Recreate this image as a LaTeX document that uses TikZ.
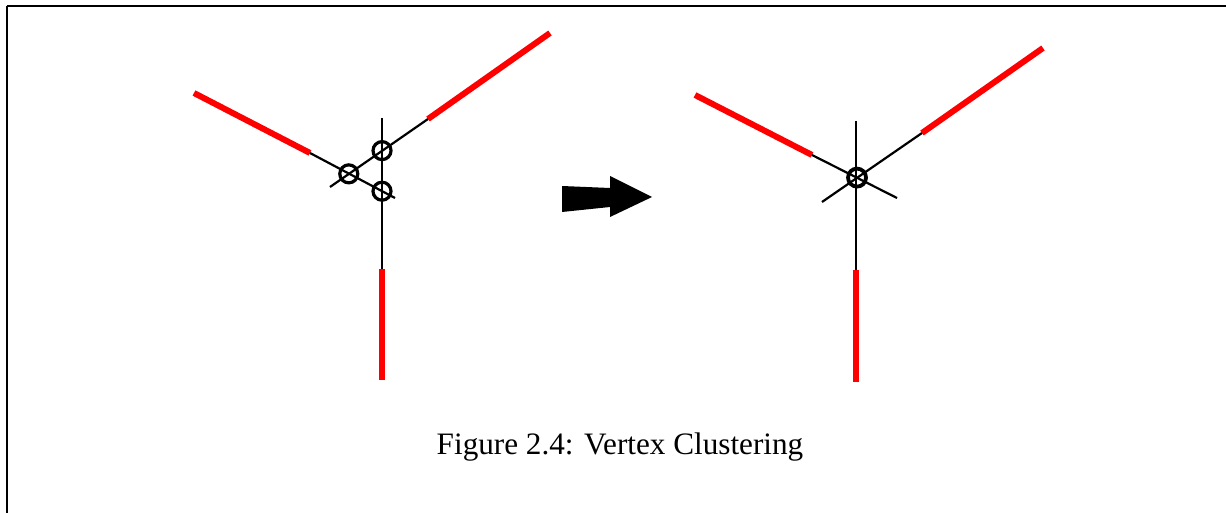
\documentclass[tikz,border=0pt]{standalone}
\usepackage{fontspec}
\setmainfont{Liberation Serif}
\usetikzlibrary{calc}

\begin{document}
\begin{tikzpicture}[x=0.5pt,y=-0.5pt,
    thin edge/.style={line width=1.1pt,black},
    red edge/.style={line width=3pt,red},
    vtx/.style={circle,draw,line width=1.6pt,minimum size=9pt,inner sep=0pt},
    frame/.style={line width=1pt,black}
  ]
  \useasboundingbox (0,0) rectangle (1226,513);
  \draw[frame] (7,6) -- (1226,6);
  \draw[frame] (7,6) -- (7,513);

  % before clustering
  \coordinate (la1) at (194,93);
  \coordinate (la2) at (310,153);
  \coordinate (la3) at (395,198);
  \coordinate (lb1) at (550,33);
  \coordinate (lb2) at (428,119);
  \coordinate (lb3) at (330,187);
  \coordinate (lc1) at (382,118);
  \coordinate (lc2) at (382,269);
  \coordinate (lc3) at (382,380);
  \draw[red edge] (la1) -- (la2);
  \draw[thin edge] (la2) -- (la3);
  \draw[red edge] (lb1) -- (lb2);
  \draw[thin edge] (lb2) -- (lb3);
  \draw[thin edge] (lc1) -- (lc2);
  \draw[red edge] (lc2) -- (lc3);
  \node[vtx] (vl) at (intersection of la1--la3 and lb1--lb3) {};
  \node[vtx] (vu) at (intersection of lb1--lb3 and lc1--lc3) {};
  \node[vtx] (vd) at (intersection of la1--la3 and lc1--lc3) {};

  % arrow
  \fill[black] (562,186) -- (610,188) -- (610,176) -- (652,197)
    -- (610,217) -- (610,207) -- (562,212) -- cycle;

  % after clustering
  \coordinate (ra1) at (695,95);
  \coordinate (ra2) at (812,155);
  \coordinate (ra3) at (897,198);
  \coordinate (rb1) at (1043,48);
  \coordinate (rb2) at (922,133);
  \coordinate (rb3) at (822,202);
  \coordinate (rc1) at (856,121);
  \coordinate (rc2) at (856,270);
  \coordinate (rc3) at (856,382);
  \draw[red edge] (ra1) -- (ra2);
  \draw[thin edge] (ra2) -- (ra3);
  \draw[red edge] (rb1) -- (rb2);
  \draw[thin edge] (rb2) -- (rb3);
  \draw[thin edge] (rc1) -- (rc2);
  \draw[red edge] (rc2) -- (rc3);
  \node[vtx,line width=1.9pt] (vc) at (intersection of ra1--ra3 and rb1--rb3) {};

  \node[font=\fontsize{15.6pt}{18pt}\selectfont] (cap) at (620,447) {Figure 2.4: Vertex Clustering};
\end{tikzpicture}
\end{document}
